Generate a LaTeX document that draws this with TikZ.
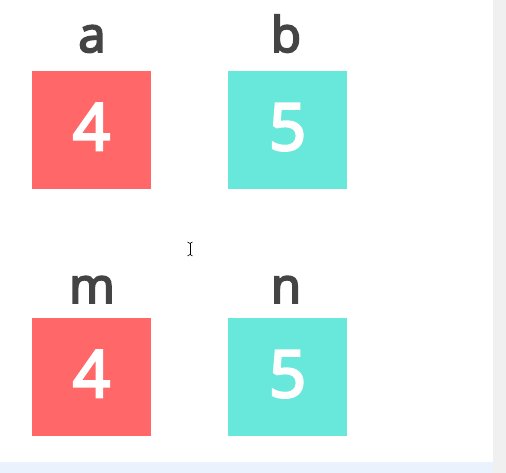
\documentclass[tikz,border=0pt]{standalone}
\usepackage{fontspec}
\setmainfont{Open Sans}
\newfontfamily\semibold[FakeBold=4]{Open Sans}
\definecolor{boxred}{HTML}{FF6768}
\definecolor{boxteal}{HTML}{67E8DA}
\definecolor{labelgray}{HTML}{444444}
\definecolor{sidegray}{HTML}{F0F0F0}
\definecolor{footblue}{HTML}{EAF3FD}
\begin{document}
\begin{tikzpicture}[x=1pt,y=1pt,
  valbox/.style={minimum width=119pt,minimum height=118pt,inner sep=0pt,draw=none},
  redbox/.style={valbox,fill=boxred},
  tealbox/.style={valbox,fill=boxteal},
  varlabel/.style={anchor=base,inner sep=0pt,text=labelgray,font=\fontsize{49}{49}\semibold},
  digit/.style={anchor=base,inner sep=0pt,text=white,font=\fontsize{65}{65}\semibold}]
\useasboundingbox (0,0) rectangle (506,473);
\fill[white] (0,0) rectangle (506,473);
\fill[sidegray] (493,0) rectangle (506,473);
\fill[footblue] (0,0) rectangle (493,11);
% row 1
\node[redbox]  (boxa) at (91.5,343) {};
\node[tealbox] (boxb) at (287.5,343) {};
\node[varlabel] (la) at (92,421) {a};
\node[varlabel] (lb) at (286,421) {b};
\node[digit] (va) at (91.5,323) {4};
\node[digit] (vb) at (287.5,323) {5};
% row 2
\node[redbox]  (boxm) at (91.5,95.5) {};
\node[tealbox] (boxn) at (287.5,95.5) {};
\node[varlabel] (lm) at (92,170) {m};
\node[varlabel] (ln) at (286,170) {n};
\node[digit] (vm) at (91.5,76) {4};
\node[digit] (vn) at (287.5,76) {5};
% text cursor
\draw[black,line width=0.9pt] (190,218) -- (190,230);
\draw[black,line width=0.6pt] (187.5,231) -- (190,229.5) -- (192.5,231);
\draw[black,line width=0.6pt] (187.5,217) -- (190,218.5) -- (192.5,217);
\end{tikzpicture}
\end{document}
